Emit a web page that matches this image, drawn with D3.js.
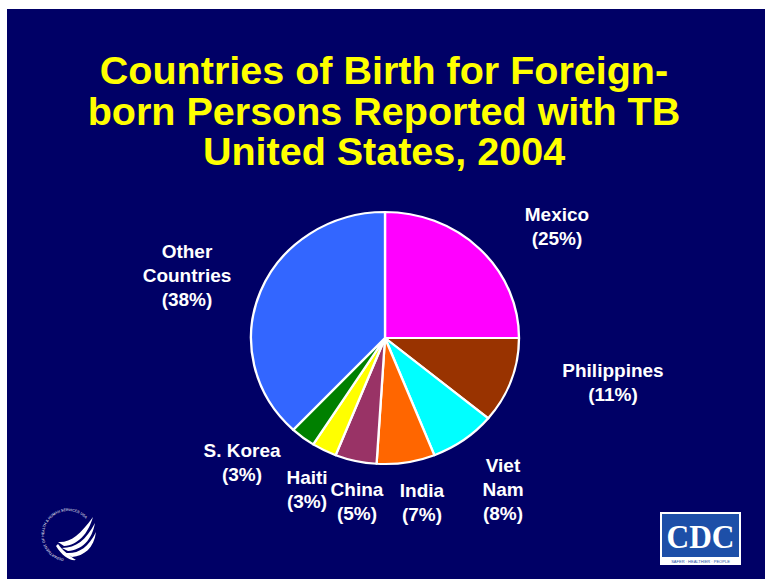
<!DOCTYPE html>
<html>
<head>
<meta charset="utf-8">
<script src="https://cdn.jsdelivr.net/npm/d3@7"></script>
<style>
  body { margin: 0; background: #fff; }
  svg { display: block; font-family: "Liberation Sans", Arial, sans-serif; }
</style>
</head>
<body>
<div id="chart-area"></div>
<script>
// data
var countries = ["Mexico", "Philippines", "Viet Nam", "India", "China", "Haiti", "S. Korea", "Other Countries"];
var percents = [25, 11, 8, 7, 5, 3, 3, 38];
var colors = ["#ff00ff", "#993300", "#00ffff", "#ff6600", "#993366", "#ffff00", "#008000", "#3366ff"];
// label lines (text broken like the slide)
var labelLines = [["Mexico"], ["Philippines"], ["Viet", "Nam"], ["India"], ["China"], ["Haiti"], ["S. Korea"], ["Other", "Countries"]];
var labelPos = [[557, 214], [613, 370], [503, 465], [422, 490], [357, 489], [307, 477], [242, 450], [187, 251]];
var titleLines = ["Countries of Birth for Foreign-", "born Persons Reported with TB", "United States, 2004"];

var width = 765;
var height = 579;

var svg = d3.select("#chart-area").append("svg")
  .attr("width", width)
  .attr("height", height)

// slide background
svg.append("rect")
  .attr("x", 7)
  .attr("y", 9)
  .attr("width", width - 7)
  .attr("height", height - 9)
  .attr("fill", "#000066")

// title
svg.append("text")
  .attr("text-anchor", "middle")
  .attr("font-size", "39.5px")
  .attr("font-weight", "bold")
  .attr("fill", "#ffff00")
  .selectAll("tspan").data(titleLines)
  .enter().append("tspan")
  .attr("x", 384)
  .attr("y", (d, i) => 84 + i * 40.5)
  .text(d => d)

// pie
var cx = 385, cy = 338, rx = 134, ry = 126;

var data = countries.map((c, i) => ({name: c, value: percents[i], color: colors[i]}));

var pie = d3.pie()
  .value(d => d.value)
  .sort(null)

var arc = d3.arc()
  .innerRadius(0)
  .outerRadius(ry)

var g = svg.append("g")
  .attr("transform", "translate(" + cx + "," + cy + ") scale(" + (rx / ry) + ",1)")

g.selectAll("path").data(pie(data))
  .enter().append("path")
  .attr("d", arc)
  .attr("fill", d => d.data.color)
  .attr("stroke", "#ffffff")
  .attr("stroke-width", 2.2)
  .attr("stroke-linejoin", "round")

// labels
var labels = svg.selectAll(".label").data(data)
  .enter().append("text")
  .attr("class", "label")
  .attr("text-anchor", "middle")
  .attr("font-size", "19px")
  .attr("font-weight", "bold")
  .attr("fill", "#ffffff")

labels.each(function(d, i) {
  var lines = labelLines[i].concat(["(" + d.value + "%)"]);
  d3.select(this).selectAll("tspan").data(lines)
    .enter().append("tspan")
    .attr("x", labelPos[i][0])
    .attr("y", (t, j) => labelPos[i][1] + 7 + j * 24)
    .text(t => t)
})

// HHS logo (rough)
var hhs = svg.append("g")
hhs.append("path")
  .attr("id", "hhsring")
  .attr("d", "M 63.8,558.6 A 24,24 0 1,1 91.6,530.8")
  .attr("fill", "none")
hhs.append("text")
  .attr("font-size", "3.6px")
  .attr("fill", "#ffffff")
  .append("textPath")
  .attr("href", "#hhsring")
  .text("DEPARTMENT OF HEALTH & HUMAN SERVICES USA")
hhs.append("path")
  .attr("d", "M 58,542 C 70,543 80,535 93,517 C 88,534 78,545 64,546 Z M 62,548 C 76,548 86,540 95,523 C 92,540 82,550 68,551 Z M 66,553 C 78,554 88,548 96,532 C 94,548 84,556 72,557 Z M 58,544 C 62,550 70,556 76,560 C 70,561 62,556 56,546 Z")
  .attr("fill", "#ffffff")

// CDC logo (rough)
var cdc = svg.append("g").attr("transform", "translate(660,512)")
cdc.append("rect")
  .attr("width", 81)
  .attr("height", 53)
  .attr("fill", "#ffffff")
cdc.append("rect")
  .attr("x", 2)
  .attr("y", 2)
  .attr("width", 77)
  .attr("height", 43)
  .attr("fill", "#1d4fa8")
cdc.append("text")
  .attr("x", 40.5)
  .attr("y", 36)
  .attr("text-anchor", "middle")
  .attr("font-family", "Liberation Serif, serif")
  .attr("font-weight", "bold")
  .attr("font-size", "33px")
  .attr("fill", "#ffffff")
  .attr("textLength", 68)
  .attr("lengthAdjust", "spacingAndGlyphs")
  .text("CDC")
cdc.append("text")
  .attr("x", 40.5)
  .attr("y", 50.5)
  .attr("text-anchor", "middle")
  .attr("font-size", "4px")
  .attr("fill", "#1d4fa8")
  .text("SAFER · HEALTHIER · PEOPLE")
</script>
</body>
</html>
